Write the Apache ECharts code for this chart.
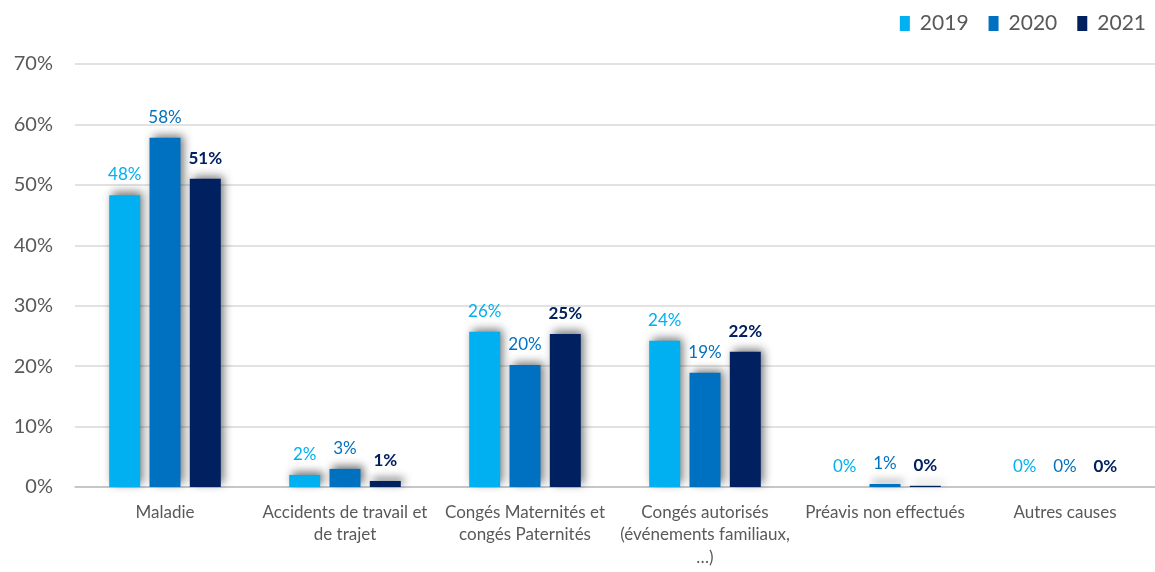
<!DOCTYPE html>
<html>
<head>
<meta charset="utf-8">
<script src="https://cdn.jsdelivr.net/npm/echarts@6/dist/echarts.min.js"></script>
<style>
    html, body { margin: 0; padding: 0; background: #fff; }
    #chart { width: 1155px; height: 572px; }
</style>
</head>
<body>
<div id="chart"></div>
<script>
    // catégories d'absence
    var categories = [
        'Maladie',
        'Accidents de travail et\nde trajet',
        'Congés Maternités et\ncongés Paternités',
        'Congés autorisés\n(événements familiaux,\n…)',
        'Préavis non effectués',
        'Autres causes'
    ]
    var years = ['2019', '2020', '2021']
    var colors = ['#00B0F0', '#0070C0', '#002060']
    // valeurs en %
    var values2019 = [48.3, 2.0, 25.7, 24.2, 0, 0]
    var values2020 = [57.8, 3.0, 20.2, 18.9, 0.5, 0]
    var values2021 = [51.0, 1.0, 25.3, 22.4, 0.2, 0]
    var yTicks = [0, 10, 20, 30, 40, 50, 60, 70]

    var font = 'Lato, "Open Sans", sans-serif'
    var seriesData = [values2019, values2020, values2021]

    var chart = echarts.init(document.getElementById('chart'))
    var option = {
        animation: false,
        textStyle: { fontFamily: font },
        legend: {
            right: 4,
            top: 8,
            itemWidth: 10,
            itemHeight: 15,
            itemGap: 20,
            icon: 'rect',
            textStyle: { fontSize: 21, color: '#595959', fontFamily: font, padding: [0, 0, 0, 5] },
            data: years
        },
        grid: { left: 75, right: -3, top: 64, bottom: 85 },
        xAxis: {
            type: 'category',
            data: categories,
            axisTick: { show: false },
            axisLine: { lineStyle: { color: '#bfbfbf', width: 1.5 } },
            axisLabel: {
                interval: 0,
                margin: 14,
                fontSize: 17,
                lineHeight: 22.5,
                color: '#595959',
                fontFamily: font
            }
        },
        yAxis: {
            type: 'value',
            min: yTicks[0],
            max: yTicks[yTicks.length - 1],
            interval: 10,
            axisLabel: {
                formatter: '{value}%',
                fontSize: 20,
                color: '#595959',
                margin: 22,
                fontFamily: font
            },
            splitLine: { lineStyle: { color: '#d9d9d9', width: 1.5 } }
        },
        series: years.map(function (y, i) {
            return {
                name: y,
                type: 'bar',
                data: seriesData[i],
                barWidth: 31,
                barGap: '30%',
                itemStyle: {
                    color: colors[i],
                    shadowColor: 'rgba(0,0,0,0.55)',
                    shadowBlur: 9,
                    shadowOffsetX: 3,
                    shadowOffsetY: -3
                },
                label: {
                    show: true,
                    position: 'top',
                    distance: 12,
                    fontSize: 17,
                    color: colors[i],
                    fontWeight: i === 2 ? 'bold' : 'normal',
                    fontFamily: font,
                    formatter: function (p) { return Math.round(p.value) + '%' }
                }
            }
        })
    }
    chart.setOption(option)
</script>
</body>
</html>
